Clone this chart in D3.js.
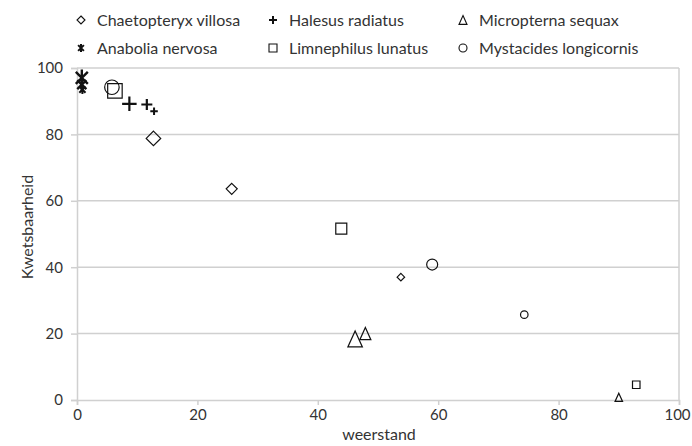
<!DOCTYPE html>
<html>
<head>
<meta charset="utf-8">
<script src="https://cdn.jsdelivr.net/npm/d3@7"></script>
<style>
  html, body { margin: 0; padding: 0; background: #fff; }
  svg { display: block; font-family: Lato, "Open Sans", sans-serif; }
</style>
</head>
<body>
<svg id="chart" width="692" height="446"></svg>
<script>
// Species, their marker shapes and their observations: [weerstand, kwetsbaarheid, weight]
const species = ["Chaetopteryx villosa", "Halesus radiatus", "Micropterna sequax",
                 "Anabolia nervosa", "Limnephilus lunatus", "Mystacides longicornis"];
const shapes = ["diamond", "plus", "triangle", "star", "square", "circle"];

const chaetopteryx = [[12.7, 78.8, 3], [25.7, 63.6, 2], [53.8, 37.0, 1]];
const halesus      = [[8.7, 89.2, 3], [11.6, 89.0, 2], [12.8, 87.0, 1]];
const micropterna  = [[46.2, 18.4, 3], [47.9, 20.0, 2], [90.0, 0.8, 1]];
const anabolia     = [[0.8, 97.0, 3], [0.8, 95.0, 2], [0.9, 93.5, 1]];
const limnephilus  = [[6.3, 93.1, 3], [43.9, 51.6, 2], [92.9, 4.6, 1]];
const mystacides   = [[5.8, 94.2, 3], [59.0, 40.8, 2], [74.3, 25.7, 1]];
const seriesValues = [chaetopteryx, halesus, micropterna, anabolia, limnephilus, mystacides];

const xTicks = [0, 20, 40, 60, 80, 100];
const yTicks = [0, 20, 40, 60, 80, 100];
const xTitle = "weerstand";
const yTitle = "Kwetsbaarheid";

const svg = d3.select("#chart");
const plotLeft = 77, plotRight = 679, plotTop = 68, plotBottom = 400;
const fontSize = 16, tickFontSize = 15;

const x = d3.scaleLinear().domain([0, 100]).range([plotLeft, plotRight]);
const y = d3.scaleLinear().domain([0, 100]).range([plotBottom, plotTop]);
const size = d3.scaleLinear().domain([1, 3]).range([7.5, 14.5]);

const gridColor = "#d0d0d0";
const textColor = "#333";

// Horizontal gridlines
svg.append("g").selectAll("line").data(yTicks.filter(d => d > 0)).join("line")
  .attr("x1", plotLeft).attr("x2", plotRight)
  .attr("y1", d => y(d)).attr("y2", d => y(d))
  .attr("stroke", gridColor).attr("stroke-width", 1.5);

// Right frame line
svg.append("line")
  .attr("x1", plotRight).attr("x2", plotRight).attr("y1", plotTop).attr("y2", plotBottom)
  .attr("stroke", gridColor).attr("stroke-width", 1.5);

// Axes
const xAxis = svg.append("g").attr("transform", `translate(0,${plotBottom})`)
  .call(d3.axisBottom(x).tickValues(xTicks).tickSize(5).tickPadding(4));
const yAxis = svg.append("g").attr("transform", `translate(${plotLeft},0)`)
  .call(d3.axisLeft(y).tickValues(yTicks).tickSize(6).tickPadding(8));

[xAxis, yAxis].forEach(g => {
  g.select(".domain").attr("stroke", gridColor).attr("stroke-width", 1.5);
  g.selectAll(".tick line").attr("stroke", gridColor).attr("stroke-width", 1.5);
  g.selectAll(".tick text").attr("fill", textColor).attr("font-size", tickFontSize)
    .attr("font-family", "Lato, sans-serif");
});
// Keep the last x label inside the canvas
xAxis.selectAll(".tick text").filter(d => d === 100).attr("dx", -2);

// Axis titles
svg.append("text").attr("x", (plotLeft + plotRight) / 2 + 1).attr("y", 440)
  .attr("text-anchor", "middle").attr("font-size", fontSize).attr("fill", textColor)
  .text(xTitle);
svg.append("text")
  .attr("transform", `translate(33,${(plotTop + plotBottom) / 2 - 7}) rotate(-90)`)
  .attr("text-anchor", "middle").attr("font-size", fontSize).attr("fill", textColor)
  .text(yTitle);

// Marker outlines, s = bounding box width
function markerPath(shape, s) {
  const h = s / 2;
  const p = d3.path();
  switch (shape) {
    case "diamond":
      p.moveTo(0, -h); p.lineTo(h, 0); p.lineTo(0, h); p.lineTo(-h, 0); p.closePath(); break;
    case "square":
      p.rect(-h, -h, s, s); break;
    case "circle":
      p.arc(0, 0, h, 0, 2 * Math.PI); p.closePath(); break;
    case "triangle":
      p.moveTo(0, -h * 1.1); p.lineTo(h, h * 1.1); p.lineTo(-h, h * 1.1); p.closePath(); break;
    case "plus":
      p.moveTo(-h, 0); p.lineTo(h, 0); p.moveTo(0, -h); p.lineTo(0, h); break;
    case "star": {
      const d = h * 0.72;
      p.moveTo(-d, -d); p.lineTo(d, d); p.moveTo(d, -d); p.lineTo(-d, d);
      p.moveTo(0, -h); p.lineTo(0, h); break;
    }
  }
  return p.toString();
}
const strokeFor = (shape, s) => shape === "plus" ? (s > 10 ? 2.2 : 2) :
                                shape === "star" ? (s > 10 ? 2.4 : 2) : 1.2;

// Data points
seriesValues.forEach((vals, i) => {
  const shape = shapes[i];
  svg.append("g").selectAll("path").data(vals).join("path")
    .attr("transform", d => `translate(${x(d[0])},${y(d[1])})`)
    .attr("d", d => markerPath(shape, size(d[2]) * (shape === "star" ? 1.15 : 1)))
    .attr("fill", "none").attr("stroke", "#111")
    .attr("stroke-width", d => strokeFor(shape, size(d[2])));
});

// Legend: two rows of three entries
const legendCols = [81, 273, 463];
const legendRows = [20, 48];
const legend = svg.append("g").selectAll("g").data(species).join("g")
  .attr("transform", (d, i) => `translate(${legendCols[i % 3]},${legendRows[Math.floor(i / 3)]})`);
legend.append("path")
  .attr("d", (d, i) => markerPath(shapes[i], 8))
  .attr("fill", "none").attr("stroke", "#111")
  .attr("stroke-width", (d, i) => shapes[i] === "plus" || shapes[i] === "star" ? 2 : 1.1);
legend.append("text").attr("x", 16).attr("y", 6)
  .attr("font-size", fontSize).attr("fill", textColor).text(d => d);
</script>
</body>
</html>
